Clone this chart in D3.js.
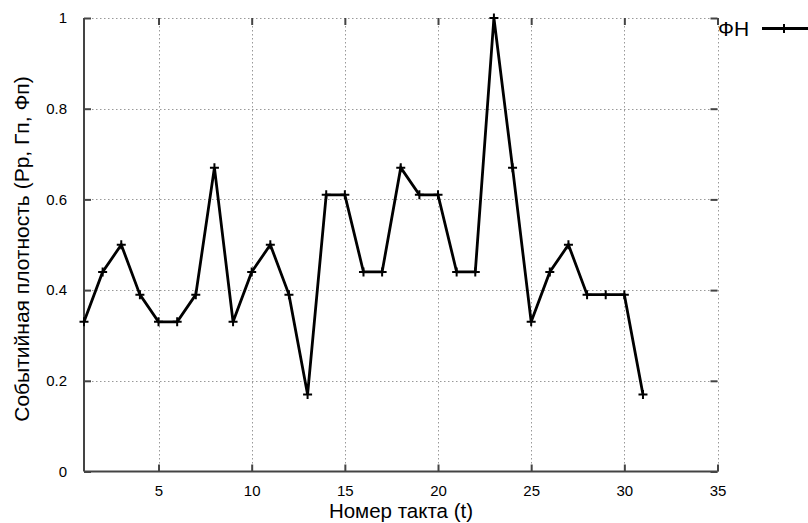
<!DOCTYPE html>
<html>
<head>
<meta charset="utf-8">
<script src="https://cdn.jsdelivr.net/npm/d3@7"></script>
<style>
  html, body { margin: 0; padding: 0; background: #fff; }
  svg { display: block; font-family: "Liberation Sans", Arial, sans-serif; }
</style>
</head>
<body>
<svg id="chart" width="808" height="523"></svg>
<script>
// Event density per cycle
const cycles = [1,2,3,4,5,6,7,8,9,10,11,12,13,14,15,16,17,18,19,20,21,22,23,24,25,26,27,28,29,30,31];
const density = [0.33,0.44,0.5,0.39,0.33,0.33,0.39,0.67,0.33,0.44,0.5,0.39,0.17,0.61,0.61,0.44,0.44,0.67,0.61,0.61,0.44,0.44,1.0,0.67,0.33,0.44,0.5,0.39,0.39,0.39,0.17];
const xTicks = [5,10,15,20,25,30,35];
const yTicks = [0,0.2,0.4,0.6,0.8,1];
const yTickLabels = ["0","0.2","0.4","0.6","0.8","1"];
const seriesName = "ФН";
const xTitle = "Номер такта (t)";
const yTitle = "Событийная плотность (Рр, Гп, Фп)";

const svg = d3.select("#chart");
const L = 84, R = 717.5, T = 18, B = 471.5;
const x = d3.scaleLinear().domain([1, 35]).range([L, R]);
const y = d3.scaleLinear().domain([0, 1]).range([B, T]);

// grid
const grid = svg.append("g").attr("stroke", "#999").attr("stroke-width", 1).attr("stroke-dasharray", "1.5,2.5");
grid.selectAll(".gx").data(xTicks).join("line")
  .attr("x1", d => Math.round(x(d)) + 0.5).attr("x2", d => Math.round(x(d)) + 0.5)
  .attr("y1", T).attr("y2", B);
grid.selectAll(".gy").data(yTicks.filter(d => d > 0)).join("line")
  .attr("x1", L).attr("x2", R)
  .attr("y1", d => Math.round(y(d)) + 0.5).attr("y2", d => Math.round(y(d)) + 0.5);

// axes (left and bottom drawn solid, ticks mirrored on top and right)
const axisColor = "#444";
const xAxis = d3.axisBottom(x).tickValues(xTicks).tickSize(-7).tickPadding(14);
const gx = svg.append("g").attr("transform", `translate(0,${B})`).call(xAxis);
gx.select(".domain").attr("stroke", axisColor).attr("stroke-width", 2).attr("d", `M${L},0H${R}`);
gx.selectAll(".tick line").attr("stroke", axisColor).attr("stroke-width", 2);
gx.selectAll(".tick text").attr("font-size", 15).attr("fill", "#000").attr("font-family", "Liberation Sans, Arial, sans-serif");

const yAxis = d3.axisLeft(y).tickValues(yTicks).tickFormat((d, i) => yTickLabels[i]).tickSize(-7).tickPadding(17);
const gy = svg.append("g").attr("transform", `translate(${L},0)`).call(yAxis);
gy.select(".domain").attr("stroke", axisColor).attr("stroke-width", 2).attr("d", `M0,${B}V${T}`);
gy.selectAll(".tick line").attr("stroke", axisColor).attr("stroke-width", 2);
gy.selectAll(".tick text").attr("font-size", 15).attr("fill", "#000").attr("font-family", "Liberation Sans, Arial, sans-serif");

const xTop = d3.axisTop(x).tickValues(xTicks).tickSize(-7).tickFormat("");
const gxt = svg.append("g").attr("transform", `translate(0,${T})`).call(xTop);
gxt.select(".domain").remove();
gxt.selectAll(".tick line").attr("stroke", axisColor).attr("stroke-width", 2);

const yRight = d3.axisRight(y).tickValues(yTicks).tickSize(-7).tickFormat("");
const gyr = svg.append("g").attr("transform", `translate(${R},0)`).call(yRight);
gyr.select(".domain").remove();
gyr.selectAll(".tick line").attr("stroke", axisColor).attr("stroke-width", 2);

// axis titles
svg.append("text").attr("x", 401).attr("y", 518).attr("text-anchor", "middle")
  .attr("font-size", 20.5).attr("fill", "#000").text(xTitle);
svg.append("text").attr("transform", "translate(29,249) rotate(-90)").attr("text-anchor", "middle")
  .attr("font-size", 21).attr("fill", "#000").text(yTitle);

// series
const pts = cycles.map((c, i) => [c, density[i]]);
const line = d3.line().x(d => x(d[0])).y(d => y(d[1]));
svg.append("path").datum(pts).attr("d", line)
  .attr("fill", "none").attr("stroke", "#000").attr("stroke-width", 2.8).attr("stroke-linejoin", "miter");

const plus = (cx, cy, s) => `M${cx - s},${cy}H${cx + s}M${cx},${cy - s}V${cy + s}`;
svg.append("g").selectAll("path").data(pts).join("path")
  .attr("d", d => plus(x(d[0]), y(d[1]), 4.5))
  .attr("stroke", "#000").attr("stroke-width", 2).attr("fill", "none");

// legend
svg.append("text").attr("x", 718).attr("y", 35.5).attr("font-size", 21).attr("fill", "#000").text(seriesName);
svg.append("line").attr("x1", 762).attr("x2", 808).attr("y1", 28.5).attr("y2", 28.5)
  .attr("stroke", "#000").attr("stroke-width", 2.8);
svg.append("path").attr("d", plus(784, 28.5, 4.5)).attr("stroke", "#000").attr("stroke-width", 2);
</script>
</body>
</html>
